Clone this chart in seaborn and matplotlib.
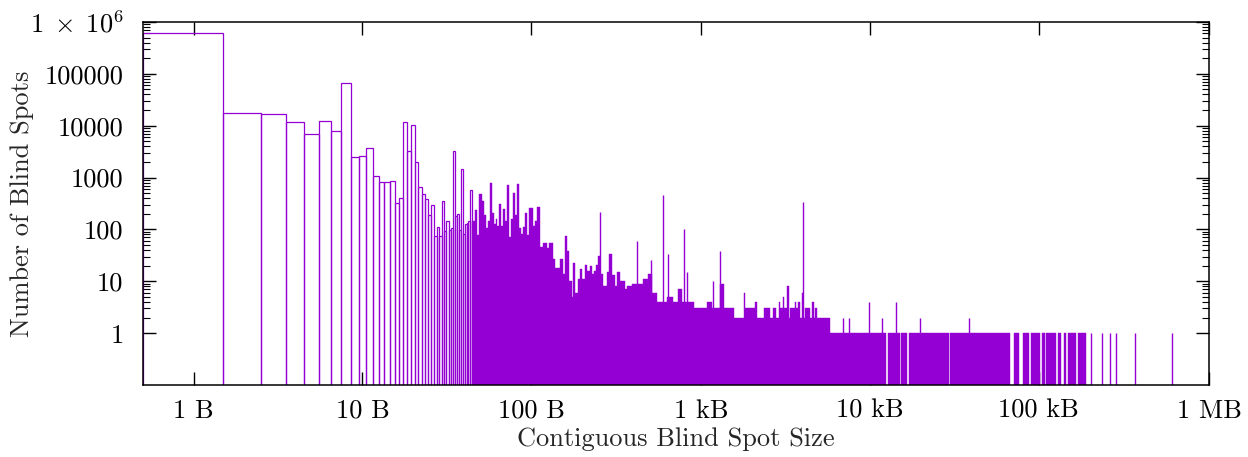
import matplotlib
matplotlib.use("Agg")
import matplotlib.pyplot as plt
import matplotlib.ticker as mticker
import seaborn as sns

purple = "#9400d3"

# blind spot size in bytes -> number of blind spots (single-byte bins)
small_sizes = list(range(1, 45))
small_counts = [605000, 17800, 17000, 11600, 6800, 12300, 7900, 66000, 2500, 2620,
                3700, 1070, 830, 830, 870, 320, 405, 12000, 3200, 10300,
                2000, 650, 490, 390, 186, 290, 74, 110, 76, 355,
                93, 147, 96, 107, 3200, 180, 195, 96, 1470, 80,
                125, 135, 145, 570]

# dense part: top of the filled area, per group of sizes (bin edges in bytes)
env_edges = [44.5, 46.3, 47.6, 49.1, 51.0, 52.6, 54.1, 55.6, 57.1, 58.9,
             60.3, 62.0, 63.1, 64.9, 66.7, 68.5, 70.4, 72.4, 74.4, 76.4,
             78.5, 80.7, 83.0, 85.2, 87.6, 90.1, 92.5, 95.1, 97.7, 102.3,
             105.6, 109.0, 113.1, 118.4, 123.9, 128.5, 134.5, 138.8, 148.6, 154.1,
             158.4, 162.8, 168.8, 174.3, 178.3, 182.4, 190.9, 195.4, 200.8, 209.2,
             216.0, 223.9, 230.1, 236.5, 243.1, 249.8, 256.7, 268.7, 283.8, 291.7,
             301.1, 315.1, 325.3, 337.6, 361.5, 369.8, 396, 424, 438, 464,
             497, 520, 557, 596, 615, 644, 662, 699, 739, 784,
             820, 847, 919, 1104, 1181, 1219, 1294, 1323, 1385, 1588,
             1821, 1862, 2135, 2183, 2286, 2415, 2620, 2719, 2844, 2937,
             3005, 3118, 3173, 3290, 3381, 3443, 3654, 3739, 3826, 3949,
             4020, 4092, 4224, 4482, 4631, 4784, 4850, 4960, 5190, 5560,
             5894, 12790, 13020, 15340, 15630, 16980, 17350, 29980, 30690, 69640,
             73500, 77960, 82800, 89390, 92400, 104900, 107400, 112300, 113800, 130000,
             133600, 139800, 144200, 149600, 153100, 171500, 175500, 196700]
env_counts = [145, 232, 77, 485, 361, 194, 108, 145, 801, 209,
              130, 160, 116, 316, 116, 250, 145, 733, 72, 160,
              507, 186, 745, 108, 80, 113, 203, 77, 261, 116,
              145, 273, 45, 55, 43, 55, 27, 18, 27, 14,
              74, 38, 10, 5, 23, 6, 11, 17, 11, 21,
              16, 20, 14, 16, 21, 31, 14, 8, 15, 33,
              13, 8, 15, 10, 7, 8, 9, 9, 9, 11,
              14, 6, 4, 4, 4, 5, 5, 4, 7, 4,
              4, 4, 3, 4, 3, 3, 3, 9, 3, 2,
              6, 3, 4, 2, 2, 3, 2, 3, 2, 4,
              3, 5, 3, 8, 2, 3, 4, 3, 4, 2,
              6, 2, 3, 2, 4, 2, 3, 2, 2, 2,
              1, 0, 1, 0, 1, 0, 1, 0, 1, 0,
              1, 0, 1, 0, 1, 0, 1, 0, 1, 0,
              1, 0, 1, 0, 1, 0, 1]

# single sizes that stick out as thin lines
spike_sizes = [256, 427, 513, 604, 650, 809, 839, 1197, 1323, 4096,
               7040, 7640, 10140, 12050, 14590, 20270, 39720,
               207800, 242600, 270600, 292400, 379100, 634300]
spike_counts = [219, 60, 26, 470, 34, 100, 15, 10, 38, 345,
                2, 2, 4, 2, 4, 2, 2,
                1, 1, 1, 1, 1, 1]

tick_pos = [1, 10, 100, 1024, 10240, 102400, 1048576]
tick_labels = ["1 B", "10 B", "100 B", "1 kB", "10 kB", "100 kB", "1 MB"]
ytick_pos = [1, 10, 100, 1000, 10000, 100000, 1000000]
ytick_labels = ["1", "10", "100", "1000", "10000", "100000", r"$1\;\times\;10^{6}$"]

sns.set_style("ticks")
plt.rcParams["font.family"] = ["cmr10", "DejaVu Serif"]
plt.rcParams["mathtext.fontset"] = "cm"
plt.rcParams["axes.unicode_minus"] = False
plt.rcParams["axes.formatter.use_mathtext"] = True

fig, ax = plt.subplots(figsize=(12.48, 4.57), dpi=100)
fig.subplots_adjust(left=0.1146, right=0.9688, top=0.9519, bottom=0.1575)

sns.histplot(x=small_sizes, weights=small_counts, discrete=True, element="bars",
             fill=False, color=purple, linewidth=0.9, ax=ax)

env_mid = [(a + b) / 2 for a, b in zip(env_edges[:-1], env_edges[1:])]
sns.histplot(x=env_mid, weights=env_counts, bins=env_edges, element="bars",
             fill=True, color=purple, alpha=1, edgecolor=purple, linewidth=0.3, ax=ax)

ax.vlines(spike_sizes, 1e-3, spike_counts, colors=purple, linewidth=1.0)

ax.set_xscale("log")
ax.set_yscale("log")
ax.set_xlim(0.5, 2 ** 20)
ax.set_ylim(0.1, 1e6)

ax.set_xticks(tick_pos)
ax.set_xticklabels(tick_labels)
ax.xaxis.set_minor_locator(mticker.NullLocator())
ax.set_yticks(ytick_pos)
ax.set_yticklabels(ytick_labels)
ax.yaxis.set_minor_locator(mticker.FixedLocator(
    [m * 10 ** k for k in range(0, 6) for m in range(2, 10)]))
ax.yaxis.set_minor_formatter(mticker.NullFormatter())

ax.tick_params(which="both", direction="in", top=True, right=True, colors="black",
               labelsize=19)
ax.tick_params(which="major", length=9.4, width=1.0)
ax.tick_params(which="minor", length=5, width=0.8)
ax.tick_params(axis="x", pad=10)
ax.tick_params(axis="y", pad=14)
for s in ax.spines.values():
    s.set_color("black")
    s.set_linewidth(1.1)

ax.set_xlabel("Contiguous Blind Spot Size", fontsize=19)
ax.set_ylabel("Number of Blind Spots", fontsize=19)
ax.xaxis.set_label_coords(0.5, -0.115)
ax.yaxis.set_label_coords(-0.102, 0.5)

fig.savefig("out.png", dpi=100)
